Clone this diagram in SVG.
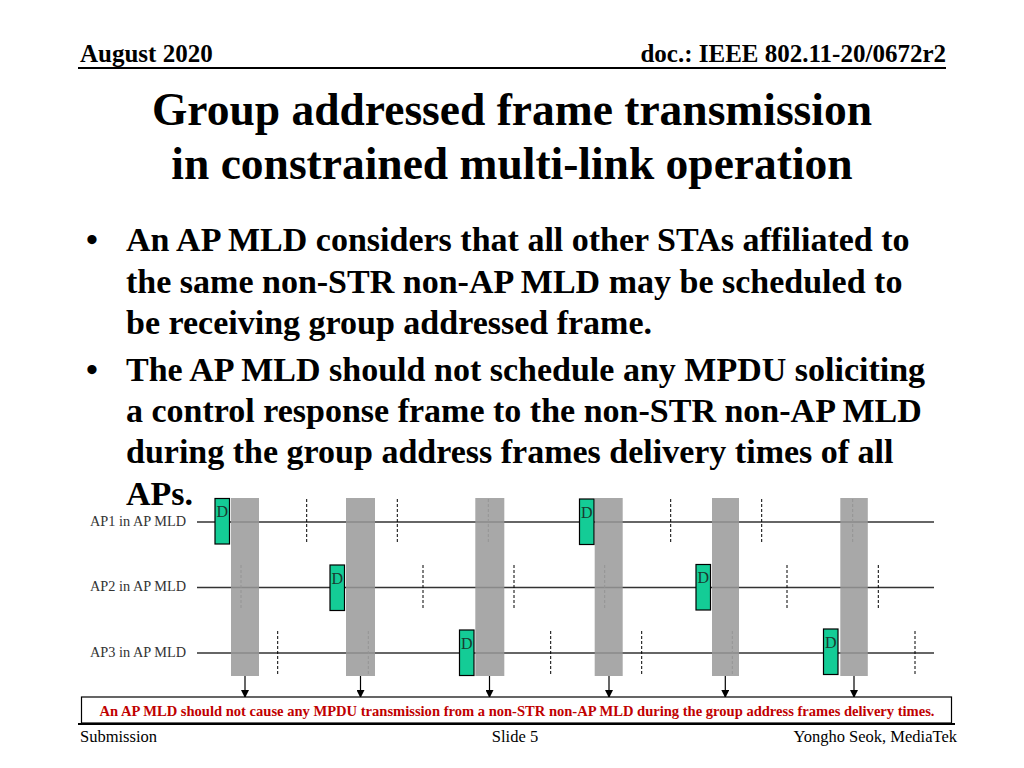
<svg xmlns="http://www.w3.org/2000/svg" width="1024" height="768" viewBox="0 0 1024 768">
<style>
.hdr{font-family:"Liberation Serif","Times New Roman",serif;font-weight:bold;font-size:25px;fill:#000}
.title{font-family:"Liberation Serif","Times New Roman",serif;font-weight:bold;font-size:45.5px;fill:#000;text-anchor:middle}
.body{font-family:"Liberation Serif","Times New Roman",serif;font-weight:bold;font-size:34px;fill:#000}
.lbl{font-family:"Liberation Serif","Times New Roman",serif;font-size:14.3px;fill:#333}
.dl{font-family:"Liberation Serif","Times New Roman",serif;font-size:16px;fill:#1a3a30}
.ftr{font-family:"Liberation Serif","Times New Roman",serif;font-size:16.5px;fill:#000}
.tl{stroke:#333;stroke-width:1.5}
.bar{fill:#999;fill-opacity:0.85}
.dbox{fill:#14cc96;stroke:#000;stroke-width:1.2}
.dash{stroke:#000;stroke-width:1;stroke-dasharray:3,2}
.fdash{stroke:#777;stroke-width:1;stroke-dasharray:3,2}
.arr{stroke:#000;stroke-width:1.2;fill:none}
</style>
<defs>
<marker id="ah" markerWidth="8" markerHeight="8" refX="7" refY="4" orient="auto" markerUnits="userSpaceOnUse">
<path d="M0,0 L8,4 L0,8 z" fill="#000"/>
</marker>
</defs>
<rect width="1024" height="768" fill="#fff"/>
<g id="header">
<text class="hdr" x="80" y="62">August 2020</text>
<text class="hdr" x="946" y="62" text-anchor="end">doc.: IEEE 802.11-20/0672r2</text>
<line x1="78" y1="68" x2="946" y2="68" stroke="#000" stroke-width="2"/>
</g>
<g id="title">
<text class="title" x="512" y="125">Group addressed frame transmission</text>
<text class="title" x="512" y="179">in constrained multi-link operation</text>
</g>
<g id="bullets">
<text class="body" x="86" y="251">•</text>
<text class="body" x="126" y="251">An AP MLD considers that all other STAs affiliated to</text>
<text class="body" x="126" y="293">the same non-STR non-AP MLD may be scheduled to</text>
<text class="body" x="126" y="334">be receiving group addressed frame.</text>
<text class="body" x="86" y="381">•</text>
<text class="body" x="126" y="381">The AP MLD should not schedule any MPDU soliciting</text>
<text class="body" x="126" y="422">a control response frame to the non-STR non-AP MLD</text>
<text class="body" x="126" y="463">during the group address frames delivery times of all</text>
<text class="body" x="126" y="505">APs.</text>
</g>
<g id="timelines">
<text class="lbl" x="90" y="526">AP1 in AP MLD</text>
<text class="lbl" x="90" y="591">AP2 in AP MLD</text>
<text class="lbl" x="90" y="657">AP3 in AP MLD</text>
<line class="tl" x1="197" y1="522" x2="934" y2="522"/>
<line class="tl" x1="197" y1="587.5" x2="934" y2="587.5"/>
<line class="tl" x1="197" y1="653" x2="934" y2="653"/>
</g>
<g id="faint-dashes">
<line class="fdash" x1="488.3" y1="499" x2="488.3" y2="543"/>
<line class="fdash" x1="852.7" y1="499" x2="852.7" y2="543"/>
<line class="fdash" x1="241" y1="565" x2="241" y2="610"/>
<line class="fdash" x1="604.7" y1="565" x2="604.7" y2="610"/>
<line class="fdash" x1="368.3" y1="631" x2="368.3" y2="674"/>
<line class="fdash" x1="732.3" y1="631" x2="732.3" y2="674"/>
</g>
<g id="bars">
<rect class="bar" x="231" y="498" width="28" height="178"/>
<rect class="bar" x="346" y="498" width="29" height="178"/>
<rect class="bar" x="475.3" y="498" width="29" height="178"/>
<rect class="bar" x="594.7" y="498" width="28" height="178"/>
<rect class="bar" x="712" y="498" width="27" height="178"/>
<rect class="bar" x="840.3" y="498" width="27.5" height="178"/>
</g>
<g id="dashes">
<line class="dash" x1="306.7" y1="499" x2="306.7" y2="543"/>
<line class="dash" x1="397.3" y1="499" x2="397.3" y2="543"/>
<line class="dash" x1="670.7" y1="499" x2="670.7" y2="543"/>
<line class="dash" x1="761.7" y1="499" x2="761.7" y2="543"/>
<line class="dash" x1="423" y1="565" x2="423" y2="610"/>
<line class="dash" x1="514" y1="565" x2="514" y2="610"/>
<line class="dash" x1="787" y1="565" x2="787" y2="610"/>
<line class="dash" x1="878.3" y1="565" x2="878.3" y2="610"/>
<line class="dash" x1="277.7" y1="631" x2="277.7" y2="674"/>
<line class="dash" x1="550.7" y1="631" x2="550.7" y2="674"/>
<line class="dash" x1="641.7" y1="631" x2="641.7" y2="674"/>
<line class="dash" x1="915" y1="631" x2="915" y2="674"/>
</g>
<g id="d-ap1-1"><rect class="dbox" x="215" y="498.5" width="14.5" height="45.5"/><text class="dl" x="216.5" y="517">D</text></g>
<g id="d-ap1-2"><rect class="dbox" x="579.5" y="499" width="14.5" height="45.5"/><text class="dl" x="581" y="517.5">D</text></g>
<g id="d-ap2-1"><rect class="dbox" x="330" y="565" width="14.5" height="45.5"/><text class="dl" x="331.5" y="583.5">D</text></g>
<g id="d-ap2-2"><rect class="dbox" x="696" y="564.5" width="14.5" height="45.5"/><text class="dl" x="697.5" y="583">D</text></g>
<g id="d-ap3-1"><rect class="dbox" x="459.5" y="630" width="14.5" height="45.5"/><text class="dl" x="461" y="648.5">D</text></g>
<g id="d-ap3-2"><rect class="dbox" x="823.5" y="629" width="14.5" height="45.5"/><text class="dl" x="825" y="647.5">D</text></g>
<g id="connectors">
<line class="arr" x1="245" y1="676" x2="245" y2="697" marker-end="url(#ah)"/>
<line class="arr" x1="360.5" y1="676" x2="360.5" y2="697" marker-end="url(#ah)"/>
<line class="arr" x1="489.5" y1="676" x2="489.5" y2="697" marker-end="url(#ah)"/>
<line class="arr" x1="609" y1="676" x2="609" y2="697" marker-end="url(#ah)"/>
<line class="arr" x1="725.3" y1="676" x2="725.3" y2="697" marker-end="url(#ah)"/>
<line class="arr" x1="854" y1="676" x2="854" y2="697" marker-end="url(#ah)"/>
</g>
<g id="note">
<rect x="81.5" y="697" width="870" height="26" fill="#fff" stroke="#000" stroke-width="1.2"/>
<text x="517" y="716" text-anchor="middle" font-family="'Liberation Serif','Times New Roman',serif" font-weight="bold" font-size="14.5" fill="#c00000" textLength="835" lengthAdjust="spacingAndGlyphs">An AP MLD should not cause any MPDU transmission from a non-STR non-AP MLD  during the group address frames delivery times.</text>
</g>
<g id="footer">
<line x1="78" y1="724" x2="955" y2="724" stroke="#000" stroke-width="2"/>
<text class="ftr" x="80" y="742">Submission</text>
<text class="ftr" x="515" y="742" text-anchor="middle">Slide 5</text>
<text class="ftr" x="957" y="742" text-anchor="end">Yongho Seok, MediaTek</text>
</g>
</svg>
